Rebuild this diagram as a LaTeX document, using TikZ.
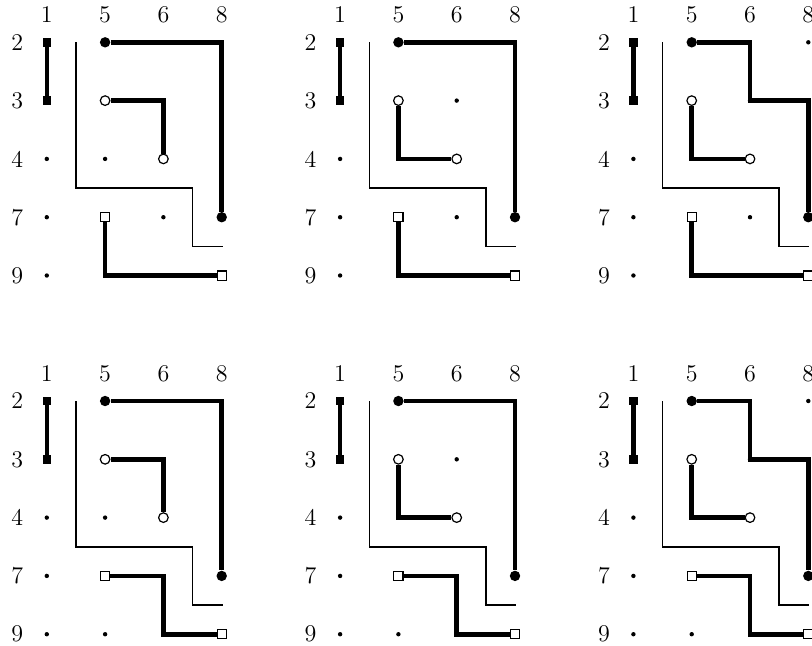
\documentclass[tikz,border=0pt]{standalone}
\tikzset{
 sqf/.style={rectangle,fill=black,minimum width=4.2pt,minimum height=4.4pt,inner sep=0pt},
 cf/.style={circle,fill=black,minimum size=5.2pt,inner sep=0pt},
 co/.style={circle,draw=black,fill=white,line width=0.6pt,minimum size=4.8pt,inner sep=0pt},
 so/.style={rectangle,draw=black,fill=white,line width=0.6pt,minimum size=4.6pt,inner sep=0pt},
 gdot/.style={circle,fill=black,minimum size=2.2pt,inner sep=0pt},
 wire/.style={line width=2.3pt,line join=miter},
 thinwire/.style={line width=0.75pt},
 lab/.style={inner sep=0pt,font=\fontsize{12}{14}\selectfont}
}
\newcommand{\gu}{58.3}
% #1 name, #2 x, #3 y, #4 open-circle variant, #5 filled variant, #6 square variant
\newcommand{\gpanel}[6]{%
\begin{scope}[shift={(#2,#3)}]
 \node[lab] (#1-h1) at (0,-27.5) {1};
 \node[lab] (#1-h5) at ({\gu},-27.5) {5};
 \node[lab] (#1-h6) at ({2*\gu},-27.5) {6};
 \node[lab] (#1-h8) at ({3*\gu},-27.5) {8};
 \node[lab] (#1-v2) at (-29.5,0) {2};
 \node[lab] (#1-v3) at (-29.5,{\gu}) {3};
 \node[lab] (#1-v4) at (-29.5,{2*\gu}) {4};
 \node[lab] (#1-v7) at (-29.5,{3*\gu}) {7};
 \node[lab] (#1-v9) at (-29.5,{4*\gu}) {9};
 \foreach \cn/\ci in {1/0,5/1,6/2,8/3}{
  \foreach \rn/\ri in {2/0,3/1,4/2,7/3,9/4}{
   \coordinate (#1-\cn-\rn) at ({\ci*\gu},{\ri*\gu});
  }
 }
 % fixed dots
 \node[gdot] (#1-d14) at (#1-1-4) {};
 \node[gdot] (#1-d17) at (#1-1-7) {};
 \node[gdot] (#1-d19) at (#1-1-9) {};
 % filled squares pair
 \node[sqf] (#1-qa) at (#1-1-2) {};
 \node[sqf] (#1-qb) at (#1-1-3) {};
 \draw[wire] (#1-qa.center) -- (#1-qb.center);
 % thin line
 \coordinate (#1-t0) at ({0.5*\gu},0);
 \coordinate (#1-t1) at ({3.02*\gu},{3.5*\gu});
 \draw[thinwire] (#1-t0) -- ++(0,{2.5*\gu}) -| ++({2*\gu},{\gu}) -- (#1-t1);
 % filled circles
 \node[cf] (#1-fs) at (#1-5-2) {};
 \node[cf] (#1-fe) at (#1-8-7) {};
 \ifnum#5=0\relax
  \draw[wire] (#1-fs) -- (#1-8-2) -- (#1-fe);
 \else
  \draw[wire] (#1-fs) -- (#1-6-2) -- (#1-6-3) -- (#1-8-3) -- (#1-fe);
  \node[gdot] (#1-d82) at (#1-8-2) {};
 \fi
 % open circles
 \node[co] (#1-os) at (#1-5-3) {};
 \node[co] (#1-oe) at (#1-6-4) {};
 \ifnum#4=0\relax
  \draw[wire] (#1-os) -- (#1-6-3) -- (#1-oe);
  \node[gdot] (#1-d54) at (#1-5-4) {};
 \else
  \draw[wire] (#1-os) -- (#1-5-4) -- (#1-oe);
  \node[gdot] (#1-d63) at (#1-6-3) {};
 \fi
 % open squares
 \node[so] (#1-ss) at (#1-5-7) {};
 \node[so] (#1-se) at (#1-8-9) {};
 \ifnum#6=0\relax
  \draw[wire] (#1-ss) -- (#1-5-9) -- (#1-se);
  \node[gdot] (#1-d67) at (#1-6-7) {};
 \else
  \draw[wire] (#1-ss) -- (#1-6-7) -- (#1-6-9) -- (#1-se);
  \node[gdot] (#1-d59) at (#1-5-9) {};
 \fi
\end{scope}}
\begin{document}
\begin{tikzpicture}[x=0.5pt,y=-0.5pt]
\useasboundingbox (0,0) rectangle (812,645);
\gpanel{pa}{46.8}{42.3}{0}{0}{0}
\gpanel{pb}{340.1}{42.3}{1}{0}{0}
\gpanel{pc}{633.4}{42.3}{1}{1}{0}
\gpanel{pd}{46.8}{401}{0}{0}{1}
\gpanel{pe}{340.1}{401}{1}{0}{1}
\gpanel{pf}{633.4}{401}{1}{1}{1}
\end{tikzpicture}
\end{document}
